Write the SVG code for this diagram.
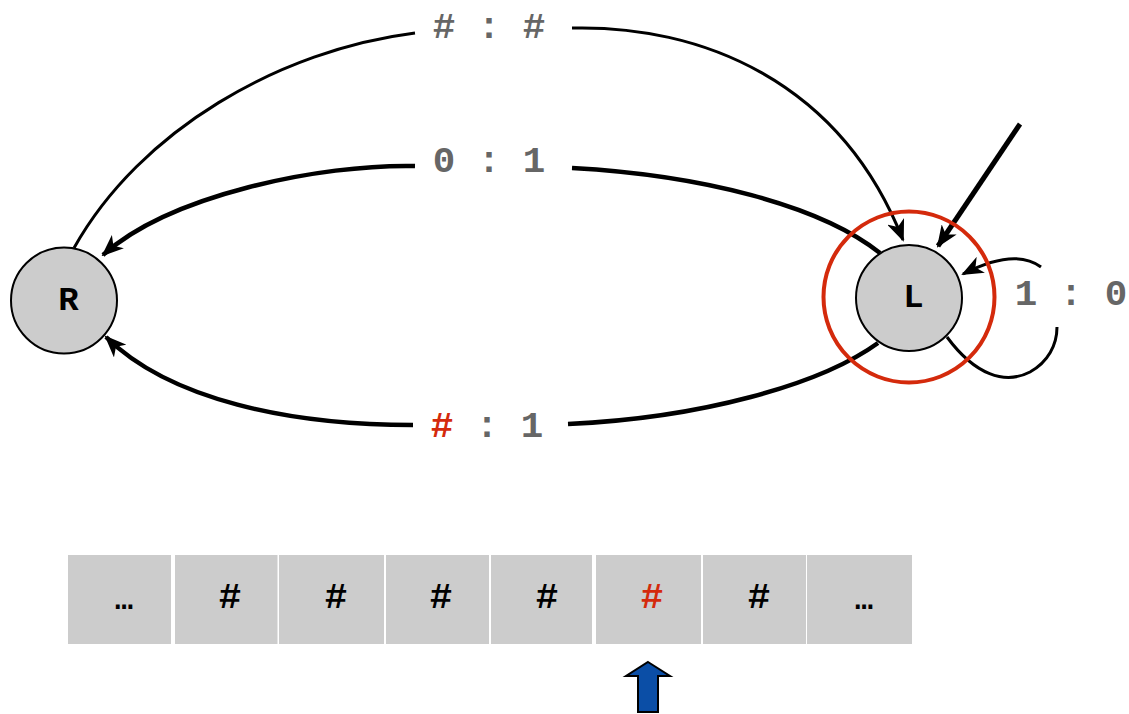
<svg xmlns="http://www.w3.org/2000/svg" width="1129" height="714" viewBox="0 0 1129 714">
<style>
.node circle{fill:#cccccc;stroke:#000;stroke-width:2}
.nlabel{font-family:"Courier New","Nimbus Mono PS","Liberation Mono",monospace;font-weight:bold;font-size:34px;fill:#000;text-anchor:middle}
.elabel{font-family:"Courier New","Nimbus Mono PS","Liberation Mono",monospace;font-weight:bold;font-size:37.5px;fill:#666666;text-anchor:middle}
.edge{fill:none;stroke:#000}
.thin{stroke-width:3}
.thick{stroke-width:4.5}
.cell{fill:#cccccc}
.tape{font-family:"Courier New","Nimbus Mono PS","Liberation Mono",monospace;font-weight:bold;font-size:37.5px;fill:#000;text-anchor:middle}
.dots{font-size:30px}
.red{fill:#d42a0c}
</style>
<defs>
<marker id="ah" markerUnits="userSpaceOnUse" markerWidth="22" markerHeight="18" viewBox="0 0 22 18" refX="20" refY="9" orient="auto">
<path d="M0,0 L22,9 L0,18 L6,9 z" fill="#000"/>
</marker>
</defs>
<rect width="1129" height="714" fill="#fff"/>
<g id="connectors">
<path class="edge thin" d="M74,248 C140,130 280,50 415,33"/>
<path class="edge thin" d="M572,28 C700,25 840,80 903,240" marker-end="url(#ah)"/>
<path class="edge thick" d="M880,253 C820,205 700,175 572,168"/>
<path class="edge thick" d="M415,166 C320,164 170,195 103,255" marker-end="url(#ah)"/>
<path class="edge thick" d="M878,343 C820,385 700,418 568,424"/>
<path class="edge thick" d="M413,425 C290,425 170,400 106,337" marker-end="url(#ah)"/>
<path class="edge thin" d="M947,337 C975,375 1005,385 1030,372 C1048,362 1057,345 1057,327"/>
<path class="edge thin" d="M1041,267 C1025,255 1000,255 963,274" marker-end="url(#ah)"/>
<path class="edge" stroke-width="5" d="M1020,124 L938,246" marker-end="url(#ah)"/>
<text class="elabel" x="489" y="38"># : #</text>
<text class="elabel" x="489" y="172">0 : 1</text>
<text class="elabel" x="487" y="437"><tspan class="red">#</tspan> : 1</text>
<text class="elabel" x="1071" y="305">1 : 0</text>
</g>
<g id="node-R" class="node">
<circle cx="64" cy="300.5" r="53"/>
<text class="nlabel" x="68.5" y="310">R</text>
</g>
<g id="node-L" class="node">
<circle cx="909" cy="298" r="53"/>
<text class="nlabel" x="913.5" y="307">L</text>
</g>
<g id="current-marker">
<circle cx="909" cy="297" r="85.5" fill="none" stroke="#d42a0c" stroke-width="4"/>
</g>
<g id="tape">
<rect class="cell" x="68" y="555" width="103" height="89"/>
<rect class="cell" x="175" y="555" width="102.5" height="89"/>
<rect class="cell" x="279" y="555" width="105" height="89"/>
<rect class="cell" x="386" y="555" width="103" height="89"/>
<rect class="cell" x="491" y="555" width="101" height="89"/>
<rect class="cell" x="596" y="555" width="105" height="89"/>
<rect class="cell" x="703" y="555" width="103" height="89"/>
<rect class="cell" x="807" y="555" width="105" height="89"/>
<text class="tape dots" x="124" y="609">…</text>
<text class="tape" x="230" y="608">#</text>
<text class="tape" x="336" y="608">#</text>
<text class="tape" x="441" y="608">#</text>
<text class="tape" x="547" y="608">#</text>
<text class="tape red" x="652" y="608">#</text>
<text class="tape" x="759" y="608">#</text>
<text class="tape dots" x="864" y="609">…</text>
</g>
<g id="head">
<polygon points="648,662 670,676 658,676 658,712 638,712 638,676 626,676" fill="#0b4ea6" stroke="#000" stroke-width="2"/>
</g>
</svg>
